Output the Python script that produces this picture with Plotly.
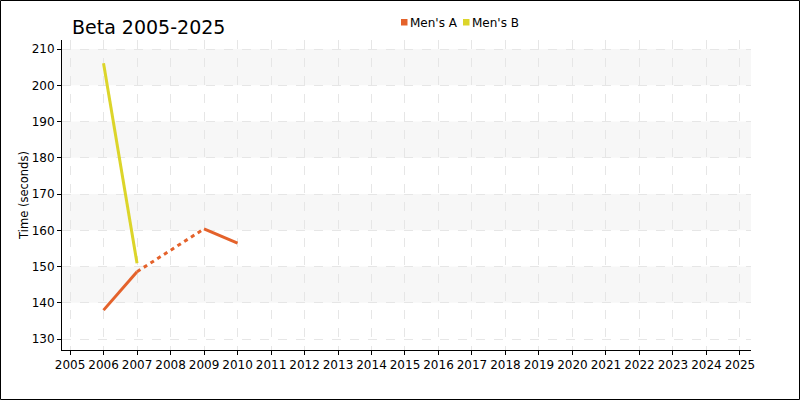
import plotly.graph_objects as go

years = list(range(2005, 2026))
series_names = ["Men's A", "Men's B"]
mens_a_years = [2006, 2007, 2008, 2009, 2010]
mens_a_values = [138.0, 148.6, None, 160.4, 156.5]
mens_b_years = [2006, 2007]
mens_b_values = [206.1, 150.9]
colors = ["#e4622b", "#dcd52a"]
y_ticks = [130, 140, 150, 160, 170, 180, 190, 200, 210]
bands = [(140, 150), (160, 170), (180, 190), (200, 210)]

W, H = 800, 400
ML, MR, MT, MB = 62, 49, 40, 50
PW, PH = W - ML - MR, H - MT - MB


def px_x(p):
    return (p - ML) / PW


def px_y(p):
    return 1 - (p - MT) / PH


fig = go.Figure()


def add_series(xs, ys, color, name):
    fig.add_trace(go.Scatter(x=xs, y=ys, mode="lines", line=dict(color=color, width=3),
                             showlegend=False, connectgaps=False, hoverinfo="skip", name=name))
    i = 0
    n = len(ys)
    while i < n:
        if ys[i] is None:
            j = i
            while j < n and ys[j] is None:
                j += 1
            if i > 0 and j < n:
                fig.add_trace(go.Scatter(x=[xs[i - 1], xs[j]], y=[ys[i - 1], ys[j]], mode="lines",
                                         line=dict(color=color, width=3, dash="4px,4px"),
                                         showlegend=False, hoverinfo="skip"))
            i = j
        else:
            i += 1


add_series(mens_a_years, mens_a_values, colors[0], series_names[0])
add_series(mens_b_years, mens_b_values, colors[1], series_names[1])

shapes = []
for lo, hi in bands:
    shapes.append(dict(type="rect", xref="paper", yref="y", x0=0, x1=1, y0=lo, y1=hi,
                       fillcolor="#f7f7f7", line=dict(width=0), layer="below"))
# outer border
shapes.append(dict(type="rect", xref="paper", yref="paper",
                   x0=px_x(0.5), x1=px_x(W - 0.5), y0=px_y(H - 0.5), y1=px_y(0.5),
                   line=dict(color="black", width=1), fillcolor="rgba(0,0,0,0)", layer="above"))

# legend (custom, compact)
annotations = []
legend_items = [(401, 409), (463, 471)]
for (sq_x, tx), name, color in zip(legend_items, series_names, colors):
    shapes.append(dict(type="rect", xref="paper", yref="paper",
                       x0=px_x(sq_x), x1=px_x(sq_x + 6.5), y0=px_y(25.5), y1=px_y(19),
                       fillcolor=color, line=dict(width=0)))
    annotations.append(dict(text=name, xref="paper", yref="paper", x=px_x(tx), y=px_y(22.5),
                            xanchor="left", yanchor="middle", showarrow=False,
                            font=dict(size=12, color="black"), xshift=-1))

fig.update_layout(
    width=W, height=H,
    margin=dict(l=ML, r=MR, t=MT, b=MB),
    paper_bgcolor="white", plot_bgcolor="white",
    font=dict(family="DejaVu Sans", size=12, color="black"),
    showlegend=False,
    title=dict(text="Beta 2005-2025", x=72 / W, xanchor="left", y=1 - 27 / H, yanchor="middle",
               font=dict(size=19, color="black")),
    shapes=shapes,
    annotations=annotations,
    xaxis=dict(range=[2004.76, 2025.33], tickmode="array", tickvals=years,
               ticktext=[str(y) for y in years], showline=True, linecolor="black", linewidth=1,
               ticks="outside", ticklen=4, tickcolor="black", showgrid=True,
               gridcolor="#e6e6e6", griddash="dash", gridwidth=1, zeroline=False,
               tickangle=0, tickfont=dict(size=12)),
    yaxis=dict(range=[127, 212.5], tickmode="array", tickvals=y_ticks,
               showline=True, linecolor="black", linewidth=1,
               ticks="outside", ticklen=4, tickcolor="black", showgrid=True,
               gridcolor="#e6e6e6", griddash="dash", gridwidth=1, zeroline=False,
               tickfont=dict(size=12),
               title=dict(text="Time (seconds)", standoff=0, font=dict(size=11.5))),
)

fig.write_html("out.html", post_script="document.body.style.margin='0';",
               config={"displayModeBar": False})
